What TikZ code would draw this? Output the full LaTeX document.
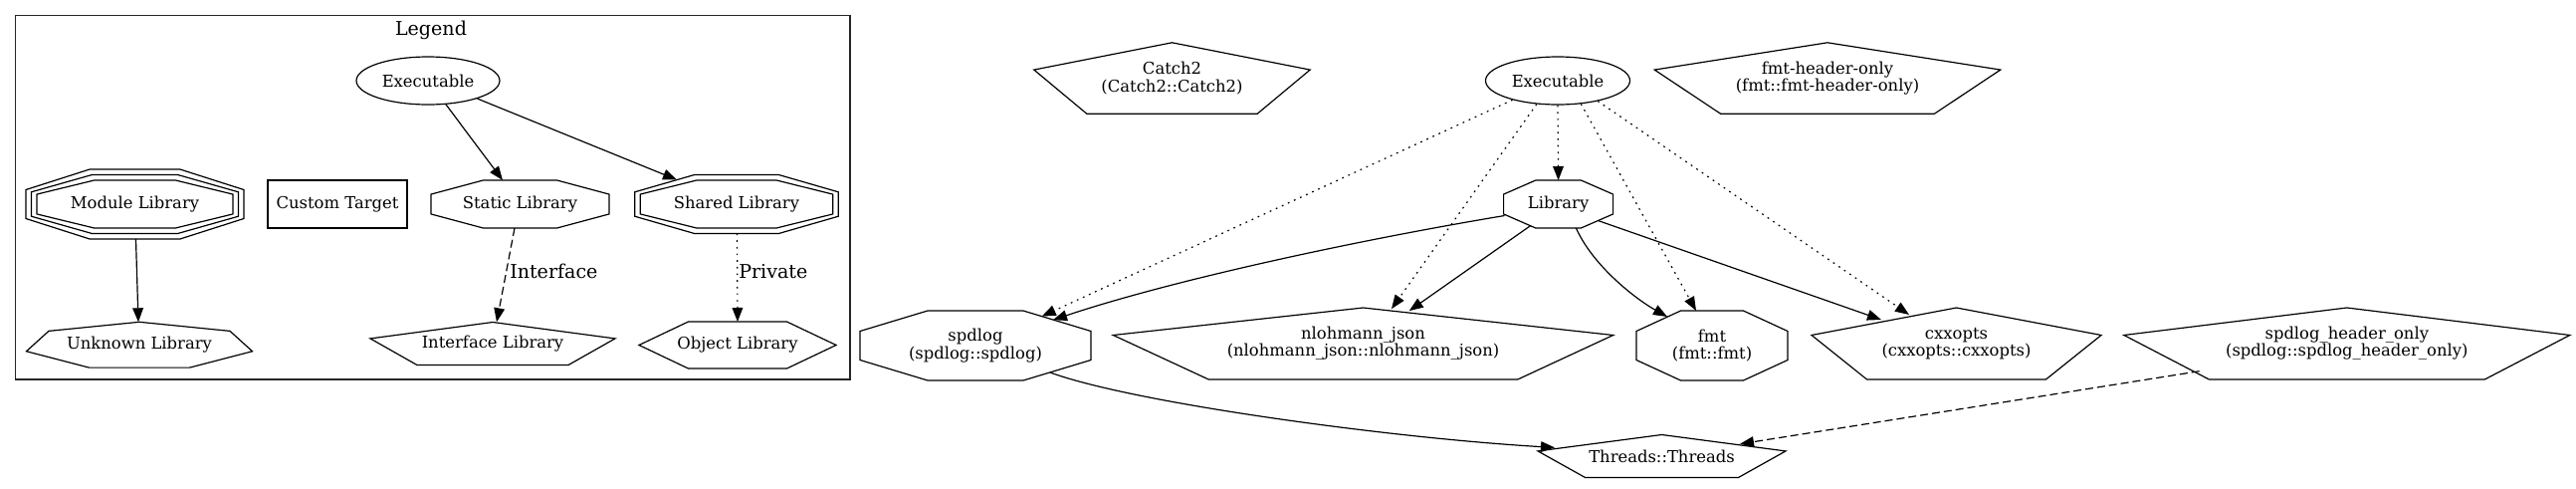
\documentclass[tikz,border=0pt]{standalone}
\usepackage{fontspec}
\setmainfont{DejaVu Serif}
\usetikzlibrary{arrows.meta,shapes.geometric,calc}
\tikzset{
 gvline/.style={line width=0.9pt, draw=black},
 gvtext/.style={font=\fontsize{12.3}{13}\selectfont, align=center, inner sep=0pt},
 gvlabel/.style={font=\fontsize{14.3}{16}\selectfont, inner sep=0pt},
 gvedge/.style={line width=0.9pt, -{Triangle[length=10.5pt,width=8pt]}},
 gvdashed/.style={dash pattern=on 6pt off 3pt},
 gvdotted/.style={dash pattern=on 1.3pt off 3.7pt},
}
\newcommand{\gvoct}[3]{\draw[gvline,shift={(#1.center)}] ({-0.414*(#2)},{-(#3)}) -- ({0.414*(#2)},{-(#3)}) -- ({#2},{-0.414*(#3)}) -- ({#2},{0.414*(#3)}) -- ({0.414*(#2)},{#3}) -- ({-0.414*(#2)},{#3}) -- ({-(#2)},{0.414*(#3)}) -- ({-(#2)},{-0.414*(#3)}) -- cycle;}
\newcommand{\gvpent}[3]{\draw[gvline,shift={(#1.center)}] (0,{-(#3)}) -- ({#2},{-0.236*(#3)}) -- ({0.618*(#2)},{#3}) -- ({-0.618*(#2)},{#3}) -- ({-(#2)},{-0.236*(#3)}) -- cycle;}
\newcommand{\gvhept}[3]{\draw[gvline,shift={(#1.center)}] (0,{-(#3)}) -- ({0.802*(#2)},{-0.604*(#3)}) -- ({#2},{0.286*(#3)}) -- ({0.445*(#2)},{#3}) -- ({-0.445*(#2)},{#3}) -- ({-(#2)},{0.286*(#3)}) -- ({-0.802*(#2)},{-0.604*(#3)}) -- cycle;}
\newcommand{\gvhex}[3]{\draw[gvline,shift={(#1.center)}] ({-0.5*(#2)},{-(#3)}) -- ({0.5*(#2)},{-(#3)}) -- ({#2},0) -- ({0.5*(#2)},{#3}) -- ({-0.5*(#2)},{#3}) -- ({-(#2)},0) -- cycle;}
\begin{document}
\begin{tikzpicture}[x=0.75pt,y=-0.75pt]
\useasboundingbox (0,0) rectangle (2588,490);

% ---------------- Legend ----------------
\node[line width=0.8pt, draw=black!85, minimum width=628.95pt, minimum height=274pt, inner sep=0pt] (legend) at (434.7,198.35) {};
\node[gvlabel] (legendtitle) at (433,30) {Legend};

\node[gvtext, gvline, draw, ellipse, minimum width=108pt, minimum height=36pt] (lexec) at (430,81) {Executable};
\node[gvtext] (lmod) at (135.5,205) {Module Library};
\gvoct{lmod}{98.5}{24}\gvoct{lmod}{104}{29.5}\gvoct{lmod}{109.5}{35}
\node[gvtext, gvline, draw, minimum width=105pt, minimum height=36pt] (lcustom) at (339,205) {Custom Target};
\node[gvtext] (lstatic) at (522.5,205) {Static Library};
\gvoct{lstatic}{89.5}{24}
\node[gvtext] (lshared) at (740,205) {Shared Library};
\gvoct{lshared}{96.75}{24}\gvoct{lshared}{102.25}{29.5}
\node[gvtext] (lunk) at (140,346.2) {Unknown Library};
\gvhept{lunk}{113.5}{22.9}
\node[gvtext] (liface) at (495,345) {Interface Library};
\gvpent{liface}{123}{21.5}
\node[gvtext] (lobj) at (741,346.5) {Object Library};
\gvhex{lobj}{99}{23.5}

\draw[gvedge] (lexec.307) -- ($(lstatic)+(-17.5,-24)$);
\draw[gvedge] (lexec.340) -- ($(lshared)+(-60,-24.5)$);
\draw[gvedge, gvdashed] ($(lstatic)+(-5.5,24)$) -- ($(liface)+(4,-21.7)$);
\node[gvlabel, anchor=west] (lblinterface) at (512,272.5) {Interface};
\draw[gvedge, gvdotted] ($(lshared)+(0.5,29.5)$) -- ($(lobj)+(0,-23.5)$);
\node[gvlabel, anchor=west] (lblprivate) at (742,272.5) {Private};
\draw[gvedge] ($(lmod)+(1,35)$) -- ($(lunk)+(-1,-22.9)$);

% ---------------- Main graph ----------------
\node[gvtext] (catch) at (1177.5,78.5) {Catch2\\(Catch2::Catch2)};
\gvpent{catch}{138.7}{35.7}
\node[gvtext, gvline, draw, ellipse, minimum width=108.75pt, minimum height=36pt] (mexec) at (1565,81) {Executable};
\node[gvtext] (fmtho) at (1836,78.5) {fmt-header-only\\(fmt::fmt-header-only)};
\gvpent{fmtho}{173.8}{35.7}
\node[gvtext] (lib) at (1565.6,205) {Library};
\gvoct{lib}{55}{24}
\node[gvtext] (spdlog) at (980,347) {spdlog\\(spdlog::spdlog)};
\gvoct{spdlog}{116}{35}
\node[gvtext] (json) at (1369.5,345) {nlohmann\_json\\(nlohmann\_json::nlohmann\_json)};
\gvpent{json}{251.2}{36}
\node[gvtext] (fmt) at (1720,347) {fmt\\(fmt::fmt)};
\gvoct{fmt}{76}{35}
\node[gvtext] (cxx) at (1965.5,345) {cxxopts\\(cxxopts::cxxopts)};
\gvpent{cxx}{145.5}{36}
\node[gvtext] (spdho) at (2357.8,345) {spdlog\_header\_only\\(spdlog::spdlog\_header\_only)};
\gvpent{spdho}{224}{36}
\node[gvtext] (threads) at (1669.5,458) {Threads::Threads};
\gvpent{threads}{124.5}{21.5}

\draw[gvedge, gvdotted] (mexec.south) -- ($(lib)+(0,-24)$);
\draw[gvedge, gvdotted] (mexec.203) -- ($(spdlog)+(66.7,-29.4)$);
\draw[gvedge, gvdotted] (mexec.228) -- ($(json)+(28.5,-34.9)$);
\draw[gvedge, gvdotted] (mexec.315) -- ($(fmt)+(-16,-35)$);
\draw[gvedge, gvdotted] (mexec.333) -- ($(cxx)+(-47.5,-29)$);

\draw[gvedge] ($(lib)+(-54,11.5)$) .. controls +(-150,25) and +(120,-40) .. ($(spdlog)+(78,-25.8)$);
\draw[gvedge] ($(lib)+(-28.1,21.7)$) -- ($(json)+(46.3,-32.9)$);
\draw[gvedge] ($(lib)+(17.8,24)$) .. controls +(17,38) and +(-32,-18) .. ($(fmt)+(-45,-29)$);
\draw[gvedge] ($(lib)+(40.4,16.7)$) -- ($(cxx)+(-75.5,-24)$);
\draw[gvedge] ($(spdlog)+(75,27)$) .. controls +(85,31) and +(-162,-9.4) .. ($(threads)+(-107.5,-8.6)$);
\draw[gvedge, gvdashed] ($(spdho)+(-148.2,27.7)$) -- ($(threads)+(78.5,-12.2)$);
\end{tikzpicture}
\end{document}
